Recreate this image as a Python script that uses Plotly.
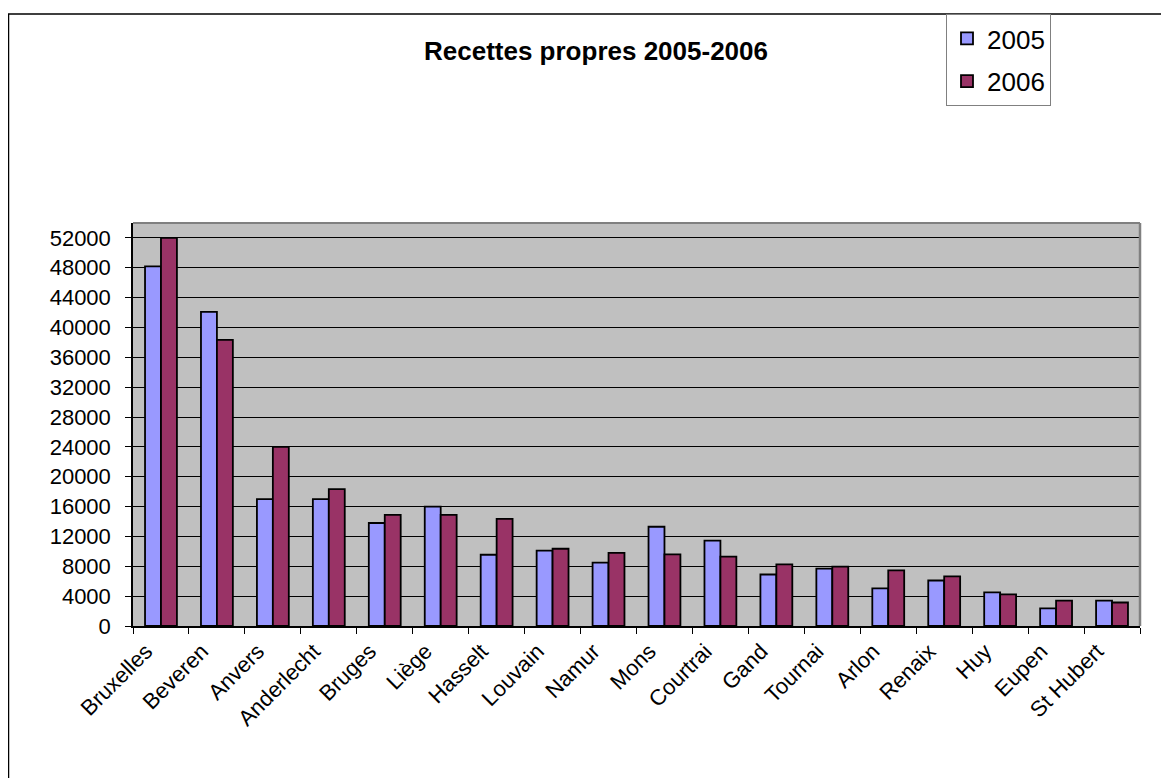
import plotly.graph_objects as go

categories = ["Bruxelles", "Beveren", "Anvers", "Anderlecht", "Bruges", "Liège",
              "Hasselt", "Louvain", "Namur", "Mons", "Courtrai", "Gand", "Tournai",
              "Arlon", "Renaix", "Huy", "Eupen", "St Hubert"]
values_2005 = [48200, 42100, 17000, 17000, 13800, 16000, 9550, 10100, 8500, 13300,
               11450, 6900, 7700, 5050, 6100, 4500, 2350, 3400]
values_2006 = [52000, 38350, 24000, 18350, 14900, 14900, 14350, 10350, 9800, 9600,
               9300, 8250, 7950, 7450, 6650, 4250, 3400, 3150]
y_ticks = list(range(0, 52001, 4000))

FONT = "Arial, 'Liberation Sans', sans-serif"

fig = go.Figure()
fig.add_trace(go.Bar(x=categories, y=values_2005, name="2005", legendgroup="a",
                     marker=dict(color="#9999FF", line=dict(color="black", width=1.8))))
fig.add_trace(go.Bar(x=categories, y=values_2006, name="2006", legendgroup="b",
                     marker=dict(color="#993366", line=dict(color="black", width=1.8))))

# page body has an 8px margin; work in screen coords and convert
OFF = 8
W, H = 1169 - OFF, 778 - OFF
PL, PR, PT, PB = 133, 1140, 223, 626  # plot area in screen px
L = PL - OFF
T = PT - OFF
R = W - (PR - OFF)
B = H - (PB - OFF)
pw = W - L - R
ph = H - T - B

def px(xs):
    return (xs - PL) / pw

def py(ys):
    return (PB - ys) / ph

fig.update_layout(
    width=W, height=H,
    margin=dict(l=L, r=R, t=T, b=B, autoexpand=False),
    paper_bgcolor="white",
    plot_bgcolor="#C0C0C0",
    barmode="group",
    bargap=0.43,
    bargroupgap=0,
    font=dict(family=FONT, color="black"),
    title=dict(text="<b>Recettes propres 2005-2006</b>", x=px(596), xref="paper",
               xanchor="center", y=1 - (51 - OFF) / H, yref="container", yanchor="middle",
               font=dict(size=26, family=FONT, color="black")),
    legend=dict(x=px(946), y=py(14), xanchor="left", yanchor="top",
                bgcolor="white", bordercolor="#808080", borderwidth=1,
                font=dict(size=26, family=FONT), tracegroupgap=6,
                traceorder="grouped", itemwidth=30),
    showlegend=True,
)

fig.update_xaxes(
    type="category",
    tickangle=-45,
    tickson="boundaries",
    ticks="outside", ticklen=6, tickcolor="black", tickwidth=1,
    showline=True, linecolor="black", linewidth=1.5,
    showgrid=False,
    tickfont=dict(size=22, family=FONT, color="black"),
    ticklabelshift=-15,
    ticklabelstandoff=2,
)
fig.update_yaxes(
    range=[0, 54000],
    tickvals=y_ticks,
    ticktext=[str(v) for v in y_ticks],
    ticks="outside", ticklen=6, tickcolor="black", tickwidth=1,
    showline=True, linecolor="black", linewidth=1.5,
    showgrid=True, gridcolor="black", gridwidth=1,
    zeroline=False,
    tickfont=dict(size=22, family=FONT, color="black"),
    ticklabelstandoff=10,
)

# plot-area top and right border (grey)
fig.add_shape(type="line", xref="paper", yref="paper", x0=0, x1=1, y0=1, y1=1,
              line=dict(color="#808080", width=2))
fig.add_shape(type="line", xref="paper", yref="paper", x0=1, x1=1, y0=0, y1=1,
              line=dict(color="#808080", width=2.5))
# outer chart border
fig.add_shape(type="rect", xref="paper", yref="paper",
              x0=px(8.5), x1=px(1200), y0=py(800), y1=py(14),
              line=dict(color="black", width=1.5), fillcolor="rgba(0,0,0,0)")

fig.write_html("out.html")
